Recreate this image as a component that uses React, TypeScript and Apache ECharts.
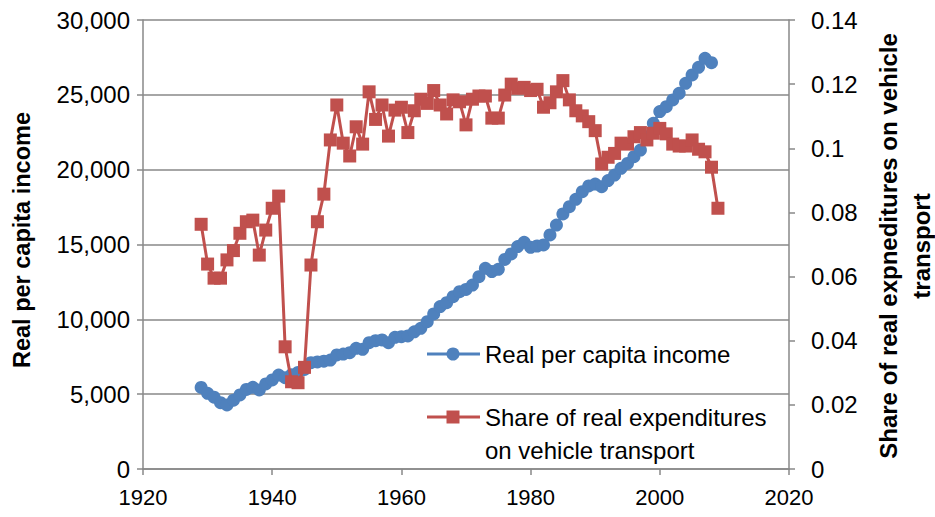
import React, { useEffect, useRef } from "react";
import * as echarts from "echarts";

const incomeYears: number[] = [];
for (let y = 1929; y <= 2008; y++) incomeYears.push(y);
const shareYears: number[] = [];
for (let y = 1929; y <= 2009; y++) shareYears.push(y);

const incomeValues = [
  5450, 5060, 4800, 4430, 4280, 4600, 4950, 5320, 5460, 5280,
  5680, 5950, 6280, 6100, 6300, 6450, 6650, 7100, 7150, 7200,
  7280, 7620, 7680, 7770, 8060, 8000, 8440, 8570, 8620, 8440,
  8800, 8840, 8890, 9170, 9400, 9840, 10360, 10850, 11110, 11510,
  11850, 12000, 12290, 12850, 13410, 13190, 13340, 14000, 14370, 14860,
  15150, 14810, 14900, 14970, 15640, 16300, 17040, 17530, 18020, 18530,
  18910, 19040, 18860, 19270, 19640, 20090, 20420, 20870, 21310, 22200,
  23100, 23880, 24210, 24660, 25100, 25770, 26330, 26840, 27440, 27150,
];

const shareValues = [
  0.0763, 0.0639, 0.0595, 0.0595, 0.0652, 0.0681, 0.0735, 0.0771, 0.0776, 0.0667,
  0.0745, 0.0813, 0.0851, 0.0381, 0.0272, 0.0269, 0.0317, 0.0636, 0.0771, 0.0857,
  0.1026, 0.1135, 0.1016, 0.0976, 0.1067, 0.1013, 0.1176, 0.109, 0.1135, 0.1038,
  0.1119, 0.1128, 0.1049, 0.1117, 0.1153, 0.114, 0.118, 0.1135, 0.1107, 0.1151,
  0.1145, 0.1073, 0.1153, 0.1163, 0.1163, 0.1094, 0.1094, 0.1166, 0.12, 0.1187,
  0.119, 0.118, 0.1184, 0.1128, 0.1142, 0.1176, 0.1211, 0.1151, 0.1117, 0.1101,
  0.1083, 0.1055, 0.0951, 0.0972, 0.0984, 0.1016, 0.1013, 0.1036, 0.1049, 0.1026,
  0.1047, 0.1062, 0.1045, 0.1013, 0.1007, 0.1007, 0.1026, 0.0997, 0.0989, 0.0941,
  0.0813,
];

const incomeName = "Real per capita income";
const shareName = "Share of real expenditures on vehicle transport";
const shareLegendLines = ["Share of real expenditures", "on vehicle transport"];
const leftTitle = "Real per capita income";
const rightTitleLines = ["Share of real expneditures on vehicle", "transport"];

const BLUE = "#4F81BD";
const RED = "#C0504D";
const AXIS = "#888888";
const FONT = "Liberation Sans";

export default function App() {
  const ref = useRef<HTMLDivElement>(null);
  useEffect(() => {
    if (!ref.current) return;
    const chart = echarts.init(ref.current, undefined, { renderer: "svg" });
    const labelStyle = { color: "#000", fontSize: 23, fontFamily: FONT };
    chart.setOption({
      animation: false,
      backgroundColor: "#fff",
      grid: { left: 143, right: 146, top: 20, bottom: 48, containLabel: false },
      xAxis: {
        type: "value",
        min: 1920,
        max: 2020,
        interval: 20,
        axisLine: { show: true, lineStyle: { color: AXIS, width: 1.5 } },
        axisTick: { show: true, length: 6, lineStyle: { color: AXIS, width: 1.5 } },
        axisLabel: { ...labelStyle, fontSize: 22, margin: 17, formatter: (v: number) => String(v) },
        splitLine: { show: false },
      },
      yAxis: [
        {
          type: "value",
          position: "left",
          min: 0,
          max: 30000,
          interval: 5000,
          axisLine: { show: true, lineStyle: { color: AXIS, width: 1.5 } },
          axisTick: { show: true, length: 6, lineStyle: { color: AXIS, width: 1.5 } },
          axisLabel: {
            ...labelStyle,
            fontSize: 24,
            margin: 13,
            formatter: (v: number) => v.toLocaleString("en-US"),
          },
          splitLine: { show: true, lineStyle: { color: AXIS, width: 1.5 } },
        },
        {
          type: "value",
          position: "right",
          min: 0,
          max: 0.14,
          interval: 0.02,
          axisLine: { show: true, lineStyle: { color: AXIS, width: 1.5 } },
          axisTick: { show: true, length: 6, lineStyle: { color: AXIS, width: 1.5 } },
          axisLabel: {
            ...labelStyle,
            fontSize: 24,
            margin: 22,
            formatter: (v: number) => String(Number(v.toFixed(2))),
          },
          splitLine: { show: false },
        },
      ],
      series: [
        {
          name: incomeName,
          type: "line",
          yAxisIndex: 0,
          data: incomeYears.map((y, i) => [y, incomeValues[i]]),
          symbol: "circle",
          symbolSize: 13,
          lineStyle: { color: BLUE, width: 3 },
          itemStyle: { color: BLUE },
          z: 2,
        },
        {
          name: shareName,
          type: "line",
          yAxisIndex: 1,
          data: shareYears.map((y, i) => [y, shareValues[i]]),
          symbol: "rect",
          symbolSize: 13,
          lineStyle: { color: RED, width: 3 },
          itemStyle: { color: RED },
          z: 3,
        },
      ],
      graphic: [
        {
          type: "text",
          x: 22,
          y: 240,
          rotation: Math.PI / 2,
          style: {
            text: leftTitle,
            fontSize: 23.5,
            fontWeight: "bold",
            fontFamily: FONT,
            fill: "#000",
            textAlign: "center",
            textVerticalAlign: "middle",
          },
        },
        {
          type: "text",
          x: 905,
          y: 246,
          rotation: Math.PI / 2,
          style: {
            text: rightTitleLines.join("\n"),
            fontSize: 24,
            lineHeight: 33,
            fontWeight: "bold",
            fontFamily: FONT,
            fill: "#000",
            textAlign: "center",
            textVerticalAlign: "middle",
          },
        },
        { type: "line", shape: { x1: 427, y1: 354, x2: 480, y2: 354 }, style: { stroke: BLUE, lineWidth: 3 } },
        { type: "circle", shape: { cx: 453, cy: 354, r: 6.5 }, style: { fill: BLUE } },
        {
          type: "text",
          x: 485,
          y: 354,
          style: { text: incomeName, fontSize: 24, fontFamily: FONT, fill: "#000", textVerticalAlign: "middle" },
        },
        { type: "line", shape: { x1: 427, y1: 417, x2: 480, y2: 417 }, style: { stroke: RED, lineWidth: 3 } },
        { type: "rect", shape: { x: 446.5, y: 410.5, width: 13, height: 13 }, style: { fill: RED } },
        {
          type: "text",
          x: 485,
          y: 417,
          style: { text: shareLegendLines[0], fontSize: 24, fontFamily: FONT, fill: "#000", textVerticalAlign: "middle" },
        },
        {
          type: "text",
          x: 485,
          y: 450,
          style: { text: shareLegendLines[1], fontSize: 24, fontFamily: FONT, fill: "#000", textVerticalAlign: "middle" },
        },
      ],
    });
    return () => chart.dispose();
  }, []);
  return (
    <div
      ref={ref}
      style={{ position: "absolute", left: 0, top: 0, width: 935, height: 517, background: "#fff" }}
    />
  );
}
